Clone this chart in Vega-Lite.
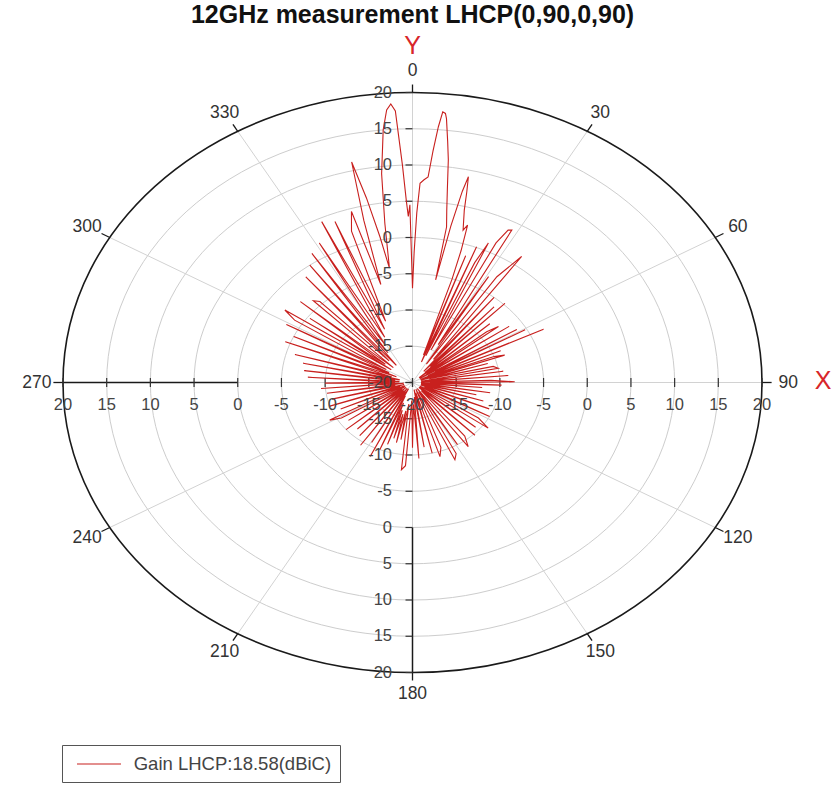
{
  "$schema": "https://vega.github.io/schema/vega-lite/v6.json",
  "width": 699,
  "height": 580,
  "autosize": "none",
  "padding": {"left": 63, "top": 92.5, "right": 74, "bottom": 114.5},
  "background": "white",
  "config": {"view": {"stroke": null}, "font": "Liberation Sans"},
  "title": {"text": "12GHz measurement LHCP(0,90,0,90)", "fontSize": 25, "fontWeight": "bold", "font": "Liberation Sans", "color": "#111111", "anchor": "middle", "offset": 9, "dy": 23, "baseline": "alphabetic"},
  "datasets": {
    "rings": [{"level": -15}, {"level": -10}, {"level": -5}, {"level": 0}, {"level": 5}, {"level": 10}, {"level": 15}, {"level": 20}],
    "spokes": [{"angle": 0}, {"angle": 30}, {"angle": 60}, {"angle": 90}, {"angle": 120}, {"angle": 150}, {"angle": 180}, {"angle": 210}, {"angle": 240}, {"angle": 270}, {"angle": 300}, {"angle": 330}],
    "axisseg": [{"angle": 270, "from": 0, "to": 20}, {"angle": 180, "from": 0, "to": 20}],
    "rticks": [{"value": -20}, {"value": -15}, {"value": -10}, {"value": -5}, {"value": 0}, {"value": 5}, {"value": 10}, {"value": 15}, {"value": 20}],
    "gain": [
      {"angle": 0, "gain": -7}, {"angle": 0.6, "gain": -2}, {"angle": 1.2, "gain": 3.4}, {"angle": 1.8, "gain": 7.5}, {"angle": 2.7, "gain": 8.0}, {"angle": 3.6, "gain": 8.4}, {"angle": 4.2, "gain": 12}, {"angle": 4.8, "gain": 15.4}, {"angle": 5.3, "gain": 17.5}, {"angle": 5.8, "gain": 17.3}, {"angle": 6.1, "gain": 16.6}, {"angle": 6.9, "gain": 13.5}, {"angle": 7.6, "gain": 11.0}, {"angle": 8.5, "gain": 7}, {"angle": 9.4, "gain": 4}, {"angle": 10.3, "gain": 1.8}, {"angle": 10.6, "gain": -5.6}, {"angle": 11.5, "gain": 2}, {"angle": 12.2, "gain": 7}, {"angle": 12.7, "gain": 9.1}, {"angle": 13.3, "gain": 7}, {"angle": 14.0, "gain": 4.5}, {"angle": 15.4, "gain": 1.8}, {"angle": 16.2, "gain": 2.6}, {"angle": 17.0, "gain": -1}, {"angle": 17.6, "gain": -5}, {"angle": 18.3, "gain": -16}, {"angle": 19.2, "gain": -1.5}, {"angle": 20.0, "gain": -17}, {"angle": 21.4, "gain": 0.1}, {"angle": 22.4, "gain": -16}, {"angle": 23.3, "gain": -2}, {"angle": 24.3, "gain": 1.1}, {"angle": 25.3, "gain": -15}, {"angle": 26.4, "gain": 1.5}, {"angle": 27.5, "gain": 3.7}, {"angle": 28.4, "gain": 3.9}, {"angle": 29.4, "gain": -14}, {"angle": 30.8, "gain": -3}, {"angle": 32.0, "gain": -17}, {"angle": 33.5, "gain": -2.5}, {"angle": 35.7, "gain": 1.4}, {"angle": 36.8, "gain": -16}, {"angle": 38.5, "gain": -5}, {"angle": 40.0, "gain": -18}, {"angle": 41.8, "gain": -6}, {"angle": 43.0, "gain": -17}, {"angle": 44.1, "gain": -4.8}, {"angle": 45.5, "gain": -18}, {"angle": 47.5, "gain": -8}, {"angle": 49.0, "gain": -19}, {"angle": 50.5, "gain": -9}, {"angle": 51.9, "gain": -7.5}, {"angle": 53.0, "gain": -18}, {"angle": 55.0, "gain": -6.5}, {"angle": 56.5, "gain": -19}, {"angle": 58.5, "gain": -6}, {"angle": 59.5, "gain": -17}, {"angle": 60.6, "gain": -5.2}, {"angle": 61.8, "gain": -18}, {"angle": 63.9, "gain": -3.3}, {"angle": 65.0, "gain": -19}, {"angle": 66.5, "gain": -9}, {"angle": 67.8, "gain": -18.5}, {"angle": 69.0, "gain": -10}, {"angle": 70.3, "gain": -8.8}, {"angle": 71.5, "gain": -19}, {"angle": 73.0, "gain": -11}, {"angle": 74.5, "gain": -18}, {"angle": 76.5, "gain": -10.5}, {"angle": 78.7, "gain": -10}, {"angle": 80.0, "gain": -19}, {"angle": 81.5, "gain": -9.5}, {"angle": 83.0, "gain": -18.5}, {"angle": 85.0, "gain": -9}, {"angle": 86.5, "gain": -19}, {"angle": 88.0, "gain": -11}, {"angle": 89.5, "gain": -8.3}, {"angle": 90.5, "gain": -18}, {"angle": 92.0, "gain": -9.8}, {"angle": 93.5, "gain": -19}, {"angle": 95.0, "gain": -12}, {"angle": 97.0, "gain": -19}, {"angle": 99.0, "gain": -11}, {"angle": 101.0, "gain": -18.5}, {"angle": 103.0, "gain": -12.5}, {"angle": 105.0, "gain": -19}, {"angle": 107.5, "gain": -11.5}, {"angle": 110.0, "gain": -19}, {"angle": 112.5, "gain": -10.5}, {"angle": 115.0, "gain": -18.5}, {"angle": 118.0, "gain": -10}, {"angle": 120.5, "gain": -19}, {"angle": 123.0, "gain": -11}, {"angle": 126.0, "gain": -9.3}, {"angle": 128.0, "gain": -19}, {"angle": 130.5, "gain": -10.5}, {"angle": 133.0, "gain": -19}, {"angle": 135.5, "gain": -9.8}, {"angle": 138.0, "gain": -18.5}, {"angle": 141.0, "gain": -10.5}, {"angle": 144.2, "gain": -9.1}, {"angle": 146.5, "gain": -19}, {"angle": 149.0, "gain": -10}, {"angle": 151.0, "gain": -18.5}, {"angle": 153.0, "gain": -9}, {"angle": 155.5, "gain": -8.3}, {"angle": 157.5, "gain": -19}, {"angle": 160.0, "gain": -10.5}, {"angle": 162.9, "gain": -9.3}, {"angle": 165.0, "gain": -18.5}, {"angle": 167.0, "gain": -10}, {"angle": 169.5, "gain": -19}, {"angle": 171.5, "gain": -11}, {"angle": 174.0, "gain": -18}, {"angle": 176.0, "gain": -9.5}, {"angle": 178.0, "gain": -17}, {"angle": 180.0, "gain": -11}, {"angle": 182.0, "gain": -17.5}, {"angle": 184.0, "gain": -8.5}, {"angle": 186.0, "gain": -7.9}, {"angle": 188.0, "gain": -17}, {"angle": 189.5, "gain": -12}, {"angle": 191.0, "gain": -16}, {"angle": 192.5, "gain": -11.5}, {"angle": 194.0, "gain": -15.5}, {"angle": 195.5, "gain": -12}, {"angle": 197.0, "gain": -16}, {"angle": 198.5, "gain": -11}, {"angle": 200.0, "gain": -17}, {"angle": 202.0, "gain": -10}, {"angle": 204.0, "gain": -18}, {"angle": 205.4, "gain": -8.7}, {"angle": 207.5, "gain": -19}, {"angle": 209.5, "gain": -10.5}, {"angle": 212.0, "gain": -18.5}, {"angle": 214.5, "gain": -9.5}, {"angle": 217.0, "gain": -19}, {"angle": 219.5, "gain": -10.5}, {"angle": 222.0, "gain": -18.5}, {"angle": 224.5, "gain": -11}, {"angle": 227.0, "gain": -19}, {"angle": 229.5, "gain": -10}, {"angle": 232.0, "gain": -18.5}, {"angle": 234.5, "gain": -11}, {"angle": 237.0, "gain": -19}, {"angle": 239.0, "gain": -10.5}, {"angle": 241.3, "gain": -9.2}, {"angle": 243.5, "gain": -19}, {"angle": 246.0, "gain": -11}, {"angle": 248.5, "gain": -18.5}, {"angle": 251.0, "gain": -10}, {"angle": 253.5, "gain": -19}, {"angle": 256.0, "gain": -10.5}, {"angle": 258.5, "gain": -18}, {"angle": 261.4, "gain": -10.1}, {"angle": 263.5, "gain": -19}, {"angle": 265.5, "gain": -9.5}, {"angle": 267.5, "gain": -18.5}, {"angle": 269.5, "gain": -10}, {"angle": 271.5, "gain": -18}, {"angle": 273.5, "gain": -8}, {"angle": 275.5, "gain": -18.5}, {"angle": 277.5, "gain": -7.5}, {"angle": 279.5, "gain": -18}, {"angle": 282.0, "gain": -7.2}, {"angle": 284.0, "gain": -18.5}, {"angle": 286.0, "gain": -6}, {"angle": 288.0, "gain": -17.5}, {"angle": 291.1, "gain": -4.4}, {"angle": 293.0, "gain": -18}, {"angle": 295.0, "gain": -5}, {"angle": 297.0, "gain": -17}, {"angle": 299.0, "gain": -3.5}, {"angle": 301.0, "gain": -16.5}, {"angle": 302.5, "gain": -4}, {"angle": 304.4, "gain": -2.3}, {"angle": 306.0, "gain": -17}, {"angle": 307.0, "gain": -5.3}, {"angle": 309.0, "gain": -16}, {"angle": 311.0, "gain": -3}, {"angle": 313.0, "gain": -17}, {"angle": 314.8, "gain": -4}, {"angle": 316.5, "gain": -4.6}, {"angle": 318.0, "gain": -16}, {"angle": 320.0, "gain": -1}, {"angle": 322.0, "gain": -17}, {"angle": 324.0, "gain": 0}, {"angle": 325.5, "gain": -15}, {"angle": 327.1, "gain": 1.2}, {"angle": 329.0, "gain": -14}, {"angle": 331.0, "gain": 2}, {"angle": 333.0, "gain": -13}, {"angle": 334.9, "gain": 4.5}, {"angle": 336.5, "gain": -12}, {"angle": 338.2, "gain": 3.9}, {"angle": 340.0, "gain": -11}, {"angle": 341.5, "gain": 2}, {"angle": 343.5, "gain": 4.6}, {"angle": 345.0, "gain": -6}, {"angle": 346.0, "gain": 3}, {"angle": 347.1, "gain": 11.2}, {"angle": 348.3, "gain": 6}, {"angle": 349.5, "gain": 0.45}, {"angle": 350.5, "gain": -4}, {"angle": 351.8, "gain": 2.2}, {"angle": 353.0, "gain": 9}, {"angle": 354.5, "gain": 15}, {"angle": 355.5, "gain": 17.7}, {"angle": 356.3, "gain": 18.5}, {"angle": 357.0, "gain": 17.5}, {"angle": 357.8, "gain": 10}, {"angle": 358.4, "gain": 5}, {"angle": 358.8, "gain": 2.9}, {"angle": 359.3, "gain": 4.5}, {"angle": 360, "gain": -7}
    ]
  },
  "layer": [
    {
      "data": {"name": "rings"},
      "transform": [{"filter": "datum.level < 20"}, {"calculate": "datum.level + 20", "as": "rr"}, {"calculate": "0", "as": "cx"}, {"calculate": "0", "as": "cy"}],
      "mark": {"type": "point", "shape": "M1,0C1,0.4583,0.5523,0.8298,0,0.8298C-0.5523,0.8298,-1,0.4583,-1,0C-1,-0.4583,-0.5523,-0.8298,0,-0.8298C0.5523,-0.8298,1,-0.4583,1,0Z", "filled": false, "color": "#cdcdcd", "strokeWidth": 1, "opacity": 1},
      "encoding": {
        "x": {"field": "cx", "type": "quantitative", "scale": {"domain": [-40, 40], "nice": false, "zero": false}, "axis": null},
        "y": {"field": "cy", "type": "quantitative", "scale": {"domain": [-40, 40], "nice": false, "zero": false}, "axis": null},
        "size": {"field": "rr", "type": "quantitative", "scale": {"type": "pow", "exponent": 2, "domain": [0, 40], "range": [0, 488601]}, "legend": null}
      }
    },
    {
      "data": {"name": "spokes"},
      "transform": [{"calculate": "0", "as": "cx"}, {"calculate": "0", "as": "cy"}, {"calculate": "40 * sin(datum.angle * PI / 180)", "as": "ex"}, {"calculate": "40 * cos(datum.angle * PI / 180)", "as": "ey"}],
      "mark": {"type": "rule", "color": "#d2d2d2", "strokeWidth": 1},
      "encoding": {
        "x": {"field": "cx", "type": "quantitative"},
        "y": {"field": "cy", "type": "quantitative"},
        "x2": {"field": "ex"},
        "y2": {"field": "ey"}
      }
    },
    {
      "data": {"name": "rings"},
      "transform": [{"filter": "datum.level == 20"}, {"calculate": "datum.level + 20", "as": "rr"}, {"calculate": "0", "as": "cx"}, {"calculate": "0", "as": "cy"}],
      "mark": {"type": "point", "shape": "M1,0C1,0.4583,0.5523,0.8298,0,0.8298C-0.5523,0.8298,-1,0.4583,-1,0C-1,-0.4583,-0.5523,-0.8298,0,-0.8298C0.5523,-0.8298,1,-0.4583,1,0Z", "filled": false, "color": "#1a1a1a", "strokeWidth": 1.6, "opacity": 1},
      "encoding": {
        "x": {"field": "cx", "type": "quantitative"},
        "y": {"field": "cy", "type": "quantitative"},
        "size": {"field": "rr", "type": "quantitative", "legend": null}
      }
    },
    {
      "data": {"name": "axisseg"},
      "transform": [
        {"calculate": "(datum.from + 20) * sin(datum.angle * PI / 180)", "as": "x1"},
        {"calculate": "(datum.from + 20) * cos(datum.angle * PI / 180)", "as": "y1"},
        {"calculate": "(datum.to + 20) * sin(datum.angle * PI / 180)", "as": "x2"},
        {"calculate": "(datum.to + 20) * cos(datum.angle * PI / 180)", "as": "y2"}
      ],
      "mark": {"type": "rule", "color": "#1a1a1a", "strokeWidth": 1.5},
      "encoding": {
        "x": {"field": "x1", "type": "quantitative"},
        "y": {"field": "y1", "type": "quantitative"},
        "x2": {"field": "x2"},
        "y2": {"field": "y2"}
      }
    },
    {
      "data": {"name": "spokes"},
      "transform": [
        {"calculate": "40 * sin(datum.angle * PI / 180)", "as": "x1"},
        {"calculate": "40 * cos(datum.angle * PI / 180)", "as": "y1"},
        {"calculate": "41.1 * sin(datum.angle * PI / 180)", "as": "x2"},
        {"calculate": "41.1 * cos(datum.angle * PI / 180)", "as": "y2"}
      ],
      "mark": {"type": "rule", "color": "#1a1a1a", "strokeWidth": 1.3},
      "encoding": {
        "x": {"field": "x1", "type": "quantitative"},
        "y": {"field": "y1", "type": "quantitative"},
        "x2": {"field": "x2"},
        "y2": {"field": "y2"}
      }
    },
    {
      "data": {"name": "rticks"},
      "transform": [{"calculate": "-(datum.value + 20)", "as": "px"}, {"calculate": "0", "as": "py"}],
      "mark": {"type": "tick", "orient": "vertical", "size": 9, "thickness": 1.2, "color": "#333333", "opacity": 1},
      "encoding": {"x": {"field": "px", "type": "quantitative"}, "y": {"field": "py", "type": "quantitative"}}
    },
    {
      "data": {"name": "rticks"},
      "transform": [{"calculate": "datum.value + 20", "as": "px"}, {"calculate": "0", "as": "py"}],
      "mark": {"type": "tick", "orient": "vertical", "size": 9, "thickness": 1.2, "color": "#333333", "opacity": 1},
      "encoding": {"x": {"field": "px", "type": "quantitative"}, "y": {"field": "py", "type": "quantitative"}}
    },
    {
      "data": {"name": "rticks"},
      "transform": [{"calculate": "datum.value + 20", "as": "py"}, {"calculate": "0", "as": "px"}],
      "mark": {"type": "tick", "orient": "horizontal", "size": 7, "thickness": 1.2, "xOffset": -3.5, "color": "#333333", "opacity": 1},
      "encoding": {"y": {"field": "py", "type": "quantitative"}, "x": {"field": "px", "type": "quantitative"}}
    },
    {
      "data": {"name": "rticks"},
      "transform": [{"calculate": "-(datum.value + 20)", "as": "py"}, {"calculate": "0", "as": "px"}],
      "mark": {"type": "tick", "orient": "horizontal", "size": 7, "thickness": 1.2, "xOffset": -3.5, "color": "#333333", "opacity": 1},
      "encoding": {"y": {"field": "py", "type": "quantitative"}, "x": {"field": "px", "type": "quantitative"}}
    },
    {
      "data": {"name": "gain"},
      "transform": [
        {"calculate": "(datum.gain + 20) * sin(datum.angle * PI / 180)", "as": "px"},
        {"calculate": "(datum.gain + 20) * cos(datum.angle * PI / 180)", "as": "py"},
        {"calculate": "'Gain LHCP:18.58(dBiC)'", "as": "series"}
      ],
      "mark": {"type": "line", "strokeWidth": 1.1, "interpolate": "linear"},
      "encoding": {
        "x": {"field": "px", "type": "quantitative"},
        "y": {"field": "py", "type": "quantitative"},
        "order": {"field": "angle", "type": "quantitative"},
        "color": {
          "field": "series",
          "type": "nominal",
          "scale": {"range": ["#c8201e"]},
          "legend": {
            "title": null, "orient": "none", "legendX": -1, "legendY": 652.5,
            "padding": 8, "strokeColor": "#555555", "fillColor": "white",
            "symbolType": "M-2.2,0L2.2,0", "symbolSize": 400, "symbolStrokeWidth": 1.2, "symbolStrokeColor": "#a03030", "symbolOffset": 18,
            "labelFont": "Liberation Sans", "labelFontSize": 18.5, "labelColor": "#444444", "labelOffset": 23.7, "labelLimit": 400
          }
        }
      }
    },
    {
      "data": {"name": "rticks"},
      "transform": [{"calculate": "-(datum.value + 20)", "as": "px"}, {"calculate": "0", "as": "py"}],
      "mark": {"type": "text", "dy": 22.5, "fontSize": 16.5, "color": "#444444", "align": "center", "baseline": "middle"},
      "encoding": {"x": {"field": "px", "type": "quantitative"}, "y": {"field": "py", "type": "quantitative"}, "text": {"field": "value", "type": "nominal"}}
    },
    {
      "data": {"name": "rticks"},
      "transform": [{"filter": "datum.value > -20"}, {"calculate": "datum.value + 20", "as": "px"}, {"calculate": "0", "as": "py"}],
      "mark": {"type": "text", "dy": 22.5, "fontSize": 16.5, "color": "#444444", "align": "center", "baseline": "middle"},
      "encoding": {"x": {"field": "px", "type": "quantitative"}, "y": {"field": "py", "type": "quantitative"}, "text": {"field": "value", "type": "nominal"}}
    },
    {
      "data": {"name": "rticks"},
      "transform": [{"calculate": "datum.value + 20", "as": "py"}, {"calculate": "0", "as": "px"}],
      "mark": {"type": "text", "dx": -20.5, "fontSize": 16.5, "color": "#444444", "align": "right", "baseline": "middle"},
      "encoding": {"y": {"field": "py", "type": "quantitative"}, "x": {"field": "px", "type": "quantitative"}, "text": {"field": "value", "type": "nominal"}}
    },
    {
      "data": {"name": "rticks"},
      "transform": [{"filter": "datum.value > -20"}, {"calculate": "-(datum.value + 20)", "as": "py"}, {"calculate": "0", "as": "px"}],
      "mark": {"type": "text", "dx": -20.5, "fontSize": 16.5, "color": "#444444", "align": "right", "baseline": "middle"},
      "encoding": {"y": {"field": "py", "type": "quantitative"}, "x": {"field": "px", "type": "quantitative"}, "text": {"field": "value", "type": "nominal"}}
    },
    {
      "data": {"name": "spokes"},
      "transform": [
        {"calculate": "43 * sin(datum.angle * PI / 180)", "as": "lx"},
        {"calculate": "43 * cos(datum.angle * PI / 180)", "as": "ly"}
      ],
      "mark": {"type": "text", "fontSize": 17.5, "color": "#333333", "align": "center", "baseline": "middle"},
      "encoding": {"x": {"field": "lx", "type": "quantitative"}, "y": {"field": "ly", "type": "quantitative"}, "text": {"field": "angle", "type": "nominal"}}
    },
    {
      "data": {"name": "spokes"},
      "transform": [
        {"filter": "datum.angle == 0"},
        {"calculate": "43 * sin(datum.angle * PI / 180)", "as": "lx"},
        {"calculate": "43 * cos(datum.angle * PI / 180)", "as": "ly"}
      ],
      "mark": {"type": "text", "text": "Y", "dy": -25, "fontSize": 25, "color": "#d8262a", "align": "center", "baseline": "middle"},
      "encoding": {"x": {"field": "lx", "type": "quantitative"}, "y": {"field": "ly", "type": "quantitative"}}
    },
    {
      "data": {"name": "spokes"},
      "transform": [
        {"filter": "datum.angle == 90"},
        {"calculate": "43 * sin(datum.angle * PI / 180)", "as": "lx"},
        {"calculate": "43 * cos(datum.angle * PI / 180)", "as": "ly"}
      ],
      "mark": {"type": "text", "text": "X", "dx": 35, "dy": -2, "fontSize": 25, "color": "#d8262a", "align": "center", "baseline": "middle"},
      "encoding": {"x": {"field": "lx", "type": "quantitative"}, "y": {"field": "ly", "type": "quantitative"}}
    }
  ]
}
